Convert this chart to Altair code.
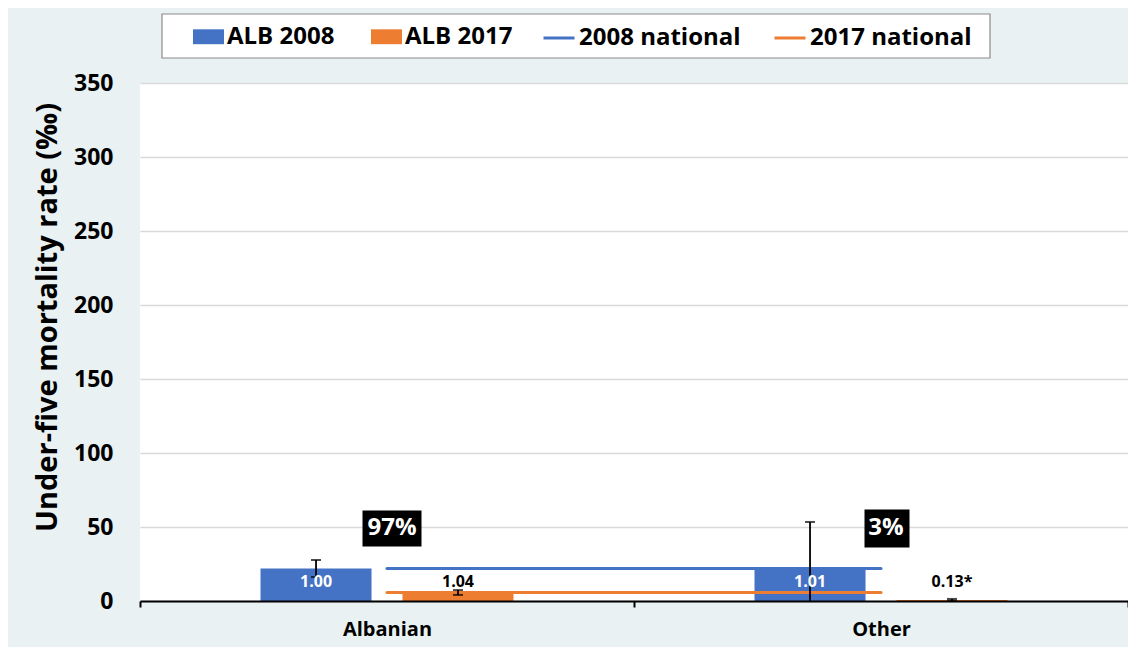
import altair as alt
import pandas as pd

categories = ["Albanian", "Other"]
bar_series = ["ALB 2008", "ALB 2017"]
line_series = ["2008 national", "2017 national"]
rate_2008 = [22.0, 22.2]
rate_2017 = [6.0, 0.75]
lo_2008 = [16.2, 0.0]
hi_2008 = [27.7, 53.4]
lo_2017 = [4.1, 0.2]
hi_2017 = [7.4, 1.4]
ratio_2008 = ["1.00", "1.01"]
ratio_2017 = ["1.04", "0.13*"]
national_2008 = [22.0, 22.0]
national_2017 = [5.8, 5.8]
shares = ["97%", "3%"]
share_level = 49

BLUE = "#4472C4"
ORANGE = "#ED7D31"
FONT = "Open Sans"

rows = []
for i, c in enumerate(categories):
    rows.append(dict(category=c, series="ALB 2008", value=rate_2008[i], lo=lo_2008[i],
                     hi=hi_2008[i], label=ratio_2008[i]))
    rows.append(dict(category=c, series="ALB 2017", value=rate_2017[i], lo=lo_2017[i],
                     hi=hi_2017[i], label=ratio_2017[i]))
bars_df = pd.DataFrame(rows)

lrows = []
for i, c in enumerate(categories):
    lrows.append(dict(category=c, series="2008 national", value=national_2008[i]))
    lrows.append(dict(category=c, series="2017 national", value=national_2017[i]))
lines_df = pd.DataFrame(lrows)

share_df = pd.DataFrame({"category": categories, "share": shares})

x_enc = alt.X("category:N", scale=alt.Scale(domain=categories, paddingInner=0, paddingOuter=0),
              axis=alt.Axis(title=None, labelFont=FONT, labelFontSize=20, labelFontWeight="bold",
                            labelColor="black", domainColor="black", domainWidth=2,
                            tickColor="black", tickWidth=2, tickSize=6, tickBand="extent",
                            labelPadding=12, grid=False, labelAngle=0, zindex=1))
xoff_enc = alt.XOffset("series:N", scale=alt.Scale(domain=bar_series, paddingInner=0.218,
                                                   paddingOuter=0.849))
y_scale = alt.Scale(domain=[0, 350], nice=False)
y_enc = alt.Y("value:Q", scale=y_scale,
              axis=alt.Axis(title="Under-five mortality rate (‰)", values=list(range(0, 351, 50)),
                            labelFont=FONT, labelFontSize=23, labelFontWeight="bold",
                            labelColor="black", labelPadding=27, domain=False, ticks=False,
                            gridColor="#D9D9D9", gridWidth=1.5,
                            titleFont=FONT, titleFontSize=29, titleFontWeight="bold",
                            titleColor="black", titleX=-93, titleY=234, titleAngle=-90,
                            titleAlign="center", titleBaseline="middle", titleLimit=600))

common_legend = dict(title=None, orient="none", direction="horizontal", columns=2,
                     labelFont=FONT, labelFontSize=24, labelFontWeight="bold",
                     labelColor="black", labelOffset=3, symbolSize=961,
                     padding=0, labelLimit=400)
bar_legend = alt.Legend(legendX=53, legendY=-62, symbolType="M-1,-0.48H1V0.48H-1Z",
                        symbolStrokeWidth=0, columnPadding=36, **common_legend)
line_legend = alt.Legend(legendX=402, legendY=-62, symbolType="stroke",
                         symbolStrokeWidth=3, columnPadding=27, **common_legend)

frame = alt.Chart(pd.DataFrame({"a": [0]})).mark_rect(
    fill="white", stroke="#8C8C8C", strokeWidth=1.2).encode(
    x=alt.value(22), x2=alt.value(850), y=alt.value(-69), y2=alt.value(-25))

bars = alt.Chart(bars_df).mark_bar().encode(
    x=x_enc, xOffset=xoff_enc, y=y_enc,
    color=alt.Color("series:N", scale=alt.Scale(domain=bar_series, range=[BLUE, ORANGE]),
                    legend=bar_legend))

lines = alt.Chart(lines_df).mark_line(strokeWidth=3, strokeCap="round").encode(
    x=alt.X("category:N"), y=alt.Y("value:Q"),
    stroke=alt.Stroke("series:N", scale=alt.Scale(domain=line_series, range=[BLUE, ORANGE]),
                      legend=line_legend),
    detail="series:N")

err_rule = alt.Chart(bars_df).mark_rule(color="black", strokeWidth=1.8).encode(
    x=alt.X("category:N"), xOffset=alt.XOffset("series:N"),
    y=alt.Y("lo:Q"), y2="hi:Q")
err_hi = alt.Chart(bars_df).mark_tick(color="black", thickness=2, size=10).encode(
    x=alt.X("category:N"), xOffset=alt.XOffset("series:N"), y=alt.Y("hi:Q"))
err_lo = alt.Chart(bars_df).transform_filter("datum.lo > 0").mark_tick(
    color="black", thickness=2, size=10).encode(
    x=alt.X("category:N"), xOffset=alt.XOffset("series:N"), y=alt.Y("lo:Q"))

labels = alt.Chart(bars_df).mark_text(font=FONT, fontSize=16, fontWeight="bold",
                                      baseline="middle", dy=-19).encode(
    x=alt.X("category:N"), xOffset=alt.XOffset("series:N"), y=alt.datum(0),
    text="label:N",
    color=alt.condition("datum.series == 'ALB 2008'", alt.value("white"), alt.value("black")))

box97 = alt.Chart(share_df).transform_filter("datum.share == '97%'").mark_point(
    shape="M-1,-0.61H1V0.61H-1Z", size=3481, filled=True, color="black", opacity=1,
    xOffset=5).encode(x=alt.X("category:N"), y=alt.datum(share_level))
box3 = alt.Chart(share_df).transform_filter("datum.share == '3%'").mark_point(
    shape="M-1,-0.84H1V0.84H-1Z", size=2025, filled=True, color="black", opacity=1,
    xOffset=6).encode(x=alt.X("category:N"), y=alt.datum(share_level))
share_text = alt.Chart(share_df).mark_text(font=FONT, fontSize=24, fontWeight="bold",
                                           color="white", baseline="middle", dx=5).encode(
    x=alt.X("category:N"), y=alt.datum(share_level), text="share:N")

chart = alt.layer(frame, bars, lines, err_rule, err_hi, err_lo, labels, box97, box3,
                  share_text).properties(
    width=988, height=518,
    autosize=alt.AutoSizeParams(type="none"),
    padding={"left": 132, "top": 75, "right": 0, "bottom": 46},
).configure(background="#E9F1F3").configure_view(fill="white", stroke=None)

chart.save("out.html", embed_options={"renderer": "svg", "actions": False})
